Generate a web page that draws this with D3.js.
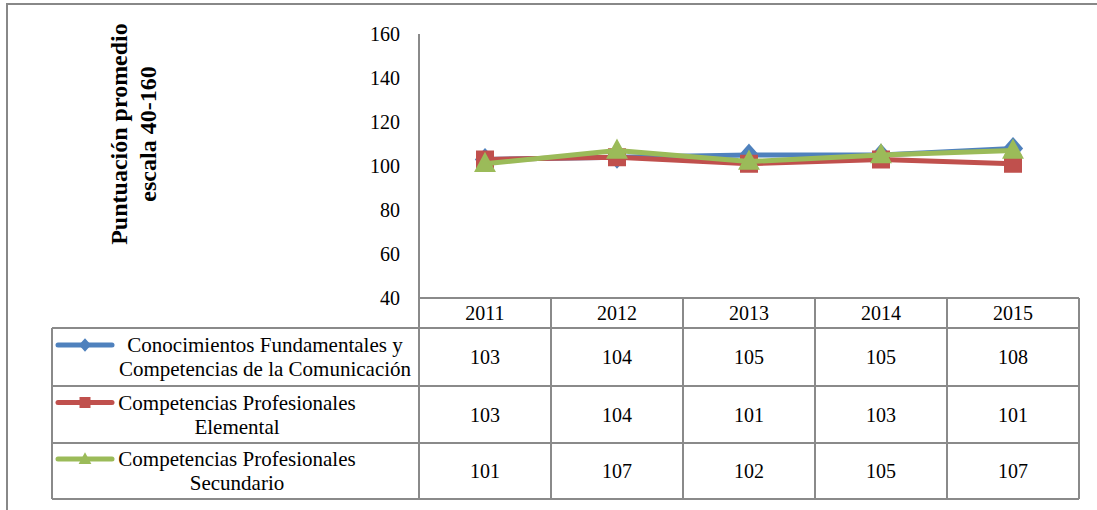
<!DOCTYPE html>
<html>
<head>
<meta charset="utf-8">
<script src="https://cdn.jsdelivr.net/npm/d3@7"></script>
<style>
  html, body { margin: 0; padding: 0; background: #fff; }
  svg { display: block; }
</style>
</head>
<body>
<svg id="chart" width="1097" height="510"></svg>
<script>
const years = ["2011", "2012", "2013", "2014", "2015"];
const seriesNames = [
  ["Conocimientos Fundamentales y", "Competencias de la Comunicación"],
  ["Competencias Profesionales", "Elemental"],
  ["Competencias Profesionales", "Secundario"]
];
const seriesColors = ["#4F81BD", "#C0504D", "#9BBB59"];
const seriesMarkers = ["diamond", "square", "triangle"];
const conocimientos = [103, 104, 105, 105, 108];
const elemental = [103, 104, 101, 103, 101];
const secundario = [101, 107, 102, 105, 107];
const yTicks = [40, 60, 80, 100, 120, 140, 160];
const yTitle = ["Puntuación promedio", "escala 40-160"];

const seriesValues = [conocimientos, elemental, secundario];
const FONT = "'Liberation Serif'";

const svg = d3.select("#chart");
const gridColor = "#8a8a8a";

function txt(sel) {
  return sel.append("text").style("font-family", FONT).attr("fill", "#000");
}

svg.append("rect").attr("x", 7).attr("y", 4).attr("width", 1100).attr("height", 520)
  .attr("fill", "none").attr("stroke", "#888").attr("stroke-width", 2);

const plotLeft = 419, plotRight = 1079, plotTop = 34, plotBottom = 298;
const tableLeft = 52;
const rowEdges = [298, 328, 386, 443, 499];

const x = d3.scaleBand().domain(years).range([plotLeft, plotRight]).padding(0);
const y = d3.scaleLinear().domain([40, 160]).range([plotBottom, plotTop]);

// y axis
const yAxis = d3.axisLeft(y).tickValues(yTicks).tickSize(0).tickPadding(19).tickFormat(d3.format("d"));
const yg = svg.append("g").attr("transform", `translate(${plotLeft},0)`).call(yAxis);
yg.attr("font-family", null);
yg.select(".domain").remove();
yg.selectAll("text").attr("font-size", 20).style("font-family", FONT).attr("fill", "#000");

// axis title
const tt = txt(svg).attr("transform", "translate(133,134) rotate(-90)")
  .attr("text-anchor", "middle").attr("font-size", 24).attr("font-weight", "bold");
yTitle.forEach((t, i) => tt.append("tspan").attr("x", 0).attr("dy", i === 0 ? "-0.25em" : "1.22em").text(t));

// table grid
const g = svg.append("g").attr("stroke", gridColor).attr("stroke-width", 2).attr("fill", "none");
g.append("line").attr("x1", plotLeft).attr("x2", plotLeft).attr("y1", plotTop).attr("y2", rowEdges[4]);
g.append("line").attr("x1", plotLeft).attr("x2", plotRight).attr("y1", rowEdges[0]).attr("y2", rowEdges[0]);
rowEdges.slice(1).forEach(r => g.append("line").attr("x1", tableLeft).attr("x2", plotRight).attr("y1", r).attr("y2", r));
g.append("line").attr("x1", tableLeft).attr("x2", tableLeft).attr("y1", rowEdges[1]).attr("y2", rowEdges[4]);
years.forEach(yr => {
  const xr = x(yr) + x.bandwidth();
  g.append("line").attr("x1", xr).attr("x2", xr).attr("y1", rowEdges[0]).attr("y2", rowEdges[4]);
});

// header text
years.forEach(yr => {
  txt(svg).attr("x", x(yr) + x.bandwidth() / 2).attr("y", (rowEdges[0] + rowEdges[1]) / 2 + 7)
    .attr("text-anchor", "middle").attr("font-size", 20).text(yr);
});

// values
seriesValues.forEach((vals, si) => {
  const cy = (rowEdges[si + 1] + rowEdges[si + 2]) / 2 + 7;
  vals.forEach((v, i) => {
    txt(svg).attr("x", x(years[i]) + x.bandwidth() / 2).attr("y", cy)
      .attr("text-anchor", "middle").attr("font-size", 20).text(v);
  });
});

function markerPath(type, size) {
  const s = size;
  if (type === "square") return `M${-s/2},${-s/2}H${s/2}V${s/2}H${-s/2}Z`;
  if (type === "diamond") return `M0,${-s*0.62}L${s*0.55},0L0,${s*0.62}L${-s*0.55},0Z`;
  return `M0,${-s*0.62}L${s*0.58},${s*0.45}L${-s*0.58},${s*0.45}Z`;
}

// legend in table rows
const legendCenters = [265, 237, 237];
seriesNames.forEach((lines, si) => {
  const top = rowEdges[si + 1], bot = rowEdges[si + 2];
  const mid = (top + bot) / 2;
  const l1 = mid - 12 + 7, l2 = mid + 12 + 7;
  const ly = mid - 12;
  svg.append("line").attr("x1", 58).attr("x2", 112).attr("y1", ly).attr("y2", ly)
    .attr("stroke", seriesColors[si]).attr("stroke-width", 5).attr("stroke-linecap", "round");
  svg.append("path").attr("d", markerPath(seriesMarkers[si], 11)).attr("transform", `translate(85,${ly})`)
    .attr("fill", seriesColors[si]);
  const t = txt(svg).attr("text-anchor", "middle").attr("font-size", 21);
  t.append("tspan").attr("x", legendCenters[si]).attr("y", l1).text(lines[0]);
  t.append("tspan").attr("x", legendCenters[si]).attr("y", l2).text(lines[1]);
});

// lines
const line = d3.line().x((d, i) => x(years[i]) + x.bandwidth() / 2).y(d => y(d));
seriesValues.forEach((vals, si) => {
  svg.append("path").datum(vals).attr("d", line).attr("fill", "none")
    .attr("stroke", seriesColors[si]).attr("stroke-width", 5).attr("stroke-linejoin", "round");
  svg.selectAll(null).data(vals).enter().append("path")
    .attr("d", markerPath(seriesMarkers[si], 16))
    .attr("transform", (d, i) => `translate(${x(years[i]) + x.bandwidth() / 2},${y(d)})`)
    .attr("fill", seriesColors[si]).attr("stroke", seriesColors[si]).attr("stroke-width", 2);
});
</script>
</body>
</html>
